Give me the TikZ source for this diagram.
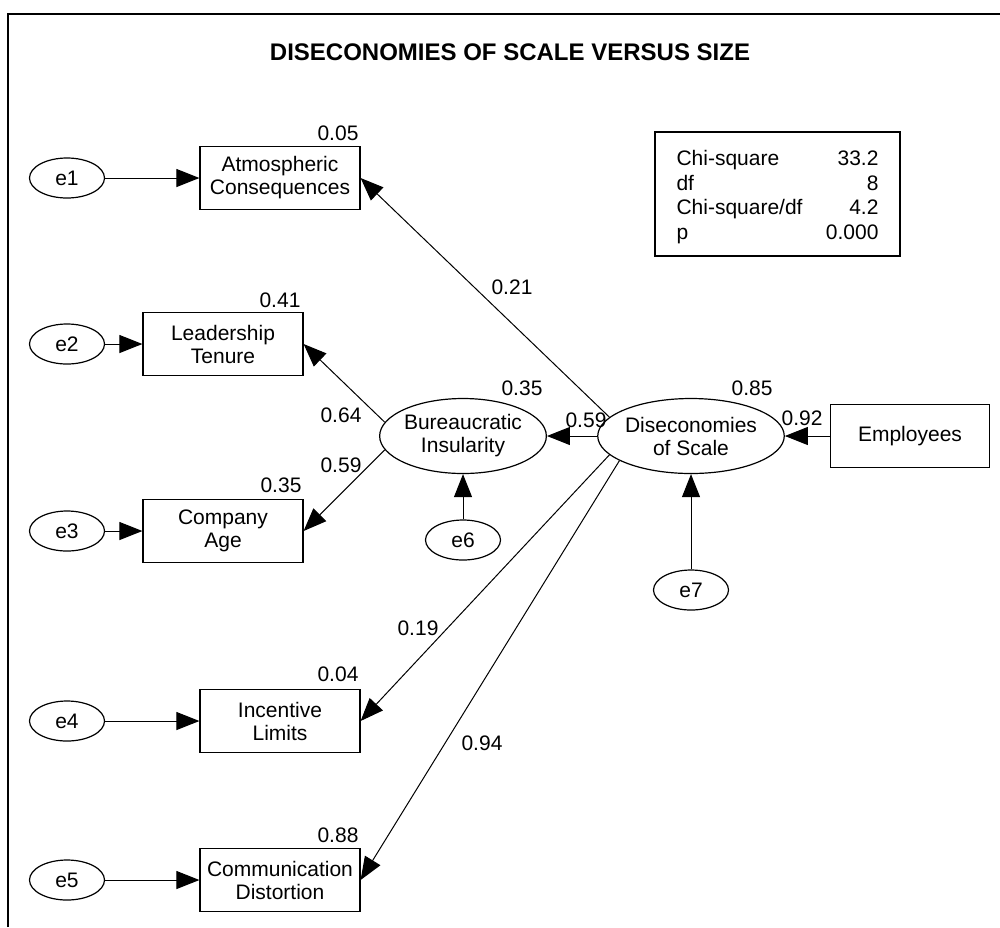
\documentclass[tikz,border=0pt]{standalone}
\usepackage{fontspec}
\setmainfont{Liberation Sans}
\usetikzlibrary{arrows.meta,shapes.geometric}

\begin{document}
\begin{tikzpicture}[font=\fontsize{10.5}{11.5}\selectfont,x=.5pt,y=-.5pt,line width=.5pt,
 >={Triangle[length=11.5pt,width=9pt]},
 obs/.style={draw,rectangle,minimum width=80pt,minimum height=31.5pt,inner sep=0pt,align=center,line width=.6pt},
 lat/.style={draw,ellipse,minimum width=82pt,minimum height=37.5pt,inner sep=0pt,align=center,line width=.6pt},
 err/.style={draw,ellipse,minimum width=37.5pt,minimum height=20pt,inner sep=0pt,line width=.6pt},
 coef/.style={inner sep=0pt}]
\useasboundingbox (0,0) rectangle (1000,927);
\draw[line width=1pt] (8,927) |- (1000,14);
\node[font=\fontsize{12}{14}\selectfont\bfseries] (title) at (510,52) {DISECONOMIES OF SCALE VERSUS SIZE};
% indicators with their error terms
\foreach \nm/\x/\y/\i/\txt in {AC/280/178/1/Atmospheric\\Consequences,LT/223/344/2/Leadership\\Tenure,CA/223/531/3/Company\\Age,IL/280/721/4/Incentive\\Limits,CD/280/880/5/Communication\\Distortion}{
 \node[obs] (\nm) at (\x,\y) {\txt};
 \node[err] (e\i) at (67,\y) {e\i};
 \draw[->] (e\i) -- (\nm);
}
% latent part
\node[lat] (BI) at (463,436) {Bureaucratic\\Insularity};
\node[lat] (DS) at (691,436) {Diseconomies\\of Scale};
\node[obs,minimum width=79.5pt] (EMP) at (910,436) {Employees};
\node[err] (e6) at (463,540) {e6};
\node[err] (e7) at (691,590) {e7};
\draw[->] (EMP) -- (DS);
\draw[->] (DS) -- (BI);
\draw[->] (e6) -- (BI);
\draw[->] (e7) -- (DS);
\draw[->] (BI.170) -- (LT.east);
\draw[->] (BI.190) -- (CA.east);
\draw[->] (DS.167) -- (AC.east);
\draw[->] (DS.193) -- (IL.east);
\draw[->] (DS.199) -- (CD.east);
% estimates
\foreach \nm/\x/\y/\v in {sAC/338/133/0.05,sLT/280/300/0.41,sCA/281/485/0.35,sIL/338/674/0.04,sCD/338/835/0.88,sBI/522/388/0.35,sDS/752/388/0.85,pBI/586/420/0.59,pEMP/802/418/0.92,pAC/512/287/0.21,pLT/341/415/0.64,pCA/341/465/0.59,pIL/418/628/0.19,pCD/482/743/0.94}{
 \node[coef] (\nm) at (\x,\y) {\v};
}
% fit box
\node[draw,line width=1pt,minimum width=122.5pt,minimum height=62pt,inner sep=0pt] (fit) at (777.5,194) {};
\foreach \t/\v/\y [count=\i] in {Chi-square/33.2/165.5,df/8/190,{Chi-square/df}/4.2/214.5,p/0.000/239.5}{
 \node[anchor=base west,inner sep=0pt] (fl\i) at (676,\y) {\t};
 \node[anchor=base east,inner sep=0pt] (fv\i) at (879,\y) {\v};
}
\end{tikzpicture}
\end{document}
